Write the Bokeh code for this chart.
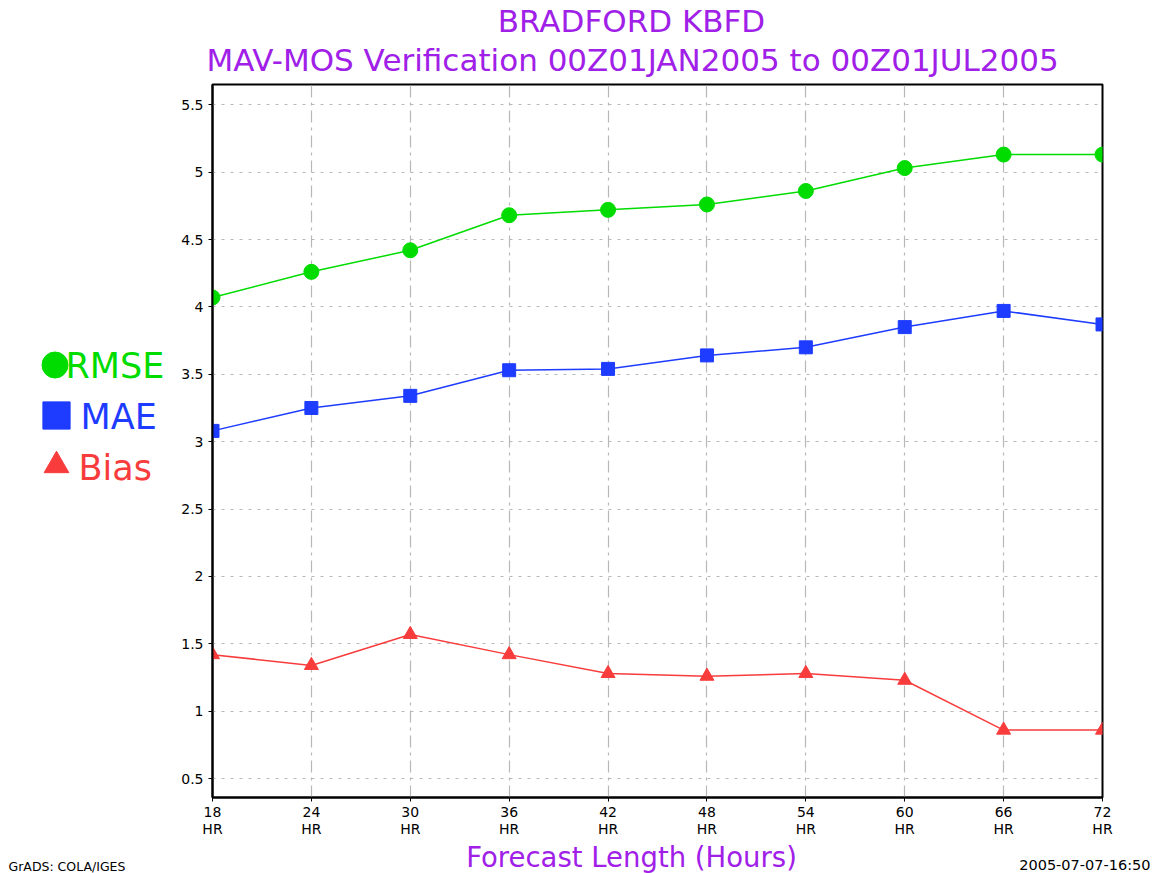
from bokeh.plotting import figure
from bokeh.models import Range1d, FixedTicker, Label, Legend, LegendItem
from bokeh.layouts import column, row
from bokeh.embed import file_html
from bokeh.resources import INLINE

# ---- data ----
hours = [18, 24, 30, 36, 42, 48, 54, 60, 66, 72]
x_tick_labels = ["18\nHR", "24\nHR", "30\nHR", "36\nHR", "42\nHR",
                 "48\nHR", "54\nHR", "60\nHR", "66\nHR", "72\nHR"]
y_ticks = [0.5, 1.0, 1.5, 2.0, 2.5, 3.0, 3.5, 4.0, 4.5, 5.0, 5.5]
y_tick_labels = ["0.5", "1", "1.5", "2", "2.5", "3", "3.5", "4", "4.5", "5", "5.5"]
rmse = [4.07, 4.26, 4.42, 4.68, 4.72, 4.76, 4.86, 5.03, 5.13, 5.13]
mae = [3.08, 3.25, 3.34, 3.53, 3.54, 3.64, 3.70, 3.85, 3.97, 3.87]
bias = [1.42, 1.34, 1.57, 1.42, 1.28, 1.26, 1.28, 1.23, 0.86, 0.86]
series_names = ["RMSE", "MAE", "Bias"]

title1 = "BRADFORD KBFD"
title2 = "MAV-MOS Verification 00Z01JAN2005 to 00Z01JUL2005"
xlabel = "Forecast Length (Hours)"
left_note = "GrADS: COLA/IGES"
right_note = "2005-07-07-16:50"

# ---- layout constants (canvas pixels) ----
W, H = 1156, 873
FL, FR, FT, FB = 212, 1102, 84, 798
TOP_H = 80                 # title strip height
MAIN_BOTTOM = 840          # main figure bottom edge
LEFT_W = 178               # legend strip width
PURPLE = "#a020e8"
GREEN = "#00dc00"
BLUE = "#1e3cff"
RED = "#f83c3c"
FONT = "DejaVu Sans"


def blank_fig(w, h, xr=(0, 1), yr=(0, 1)):
    f = figure(width=w, height=h, output_backend="svg", toolbar_location=None,
               x_range=Range1d(*xr), y_range=Range1d(*yr),
               x_axis_location=None, y_axis_location=None,
               min_border=0, min_border_left=0, min_border_right=0,
               min_border_top=0, min_border_bottom=0)
    f.outline_line_color = None
    f.xgrid.visible = False
    f.ygrid.visible = False
    f.background_fill_color = "white"
    f.border_fill_color = "white"
    return f


def label(f, text, cx, cy, f_left, f_bottom, size, color, align="center"):
    f.add_layout(Label(x=cx - f_left, y=f_bottom - cy, x_units="screen", y_units="screen",
                       text=text, text_font=FONT, text_font_size=size,
                       text_color=color, text_align=align, text_baseline="middle"))


# ---- title strip ----
top = blank_fig(W, TOP_H)
label(top, title1, 631, 20, 0, TOP_H, "31px", PURPLE)
label(top, title2, 632, 59, 0, TOP_H, "31px", PURPLE)

# ---- main plot ----
MW = W - LEFT_W
p = figure(width=MW, height=MAIN_BOTTOM - TOP_H, output_backend="svg", toolbar_location=None,
           x_range=Range1d(18, 72), y_range=Range1d(0.36, 5.65),
           min_border_left=FL - LEFT_W, min_border_right=W - FR,
           min_border_top=FT - TOP_H, min_border_bottom=MAIN_BOTTOM - FB)
p.background_fill_color = "white"
p.border_fill_color = "white"
p.outline_line_color = "black"
p.outline_line_width = 2

p.xaxis.ticker = FixedTicker(ticks=hours)
p.xaxis.major_label_overrides = {h: lab for h, lab in zip(hours, x_tick_labels)}
p.yaxis.ticker = FixedTicker(ticks=y_ticks)
p.yaxis.major_label_overrides = {t: lab for t, lab in zip(y_ticks, y_tick_labels)}
for ax in (p.xaxis[0], p.yaxis[0]):
    ax.axis_line_color = "black"
    ax.axis_line_width = 2
    ax.major_tick_line_color = "black"
    ax.major_tick_in = 0
    ax.major_tick_out = 4
    ax.minor_tick_line_color = None
    ax.major_label_text_font = FONT
    ax.major_label_text_font_size = "14px"
    ax.major_label_text_color = "black"
p.yaxis.major_label_standoff = 5
p.xaxis.major_label_standoff = 2
p.xaxis.major_label_text_line_height = 1.1

p.xgrid.grid_line_color = "#b8b8b8"
p.xgrid.grid_line_dash = "12 5 3 5"
p.xgrid.grid_line_width = 1.2
p.ygrid.grid_line_color = "#b8b8b8"
p.ygrid.grid_line_dash = "3 6"
p.ygrid.grid_line_width = 1.2

p.line(hours, rmse, line_color=GREEN, line_width=1.5)
p.scatter(hours, rmse, marker="circle", size=15, fill_color=GREEN, line_color=GREEN)
p.line(hours, mae, line_color=BLUE, line_width=1.5)
p.scatter(hours, mae, marker="square", size=13, fill_color=BLUE, line_color=BLUE)
p.line(hours, bias, line_color=RED, line_width=1.5)
p.scatter(hours, bias, marker="triangle", size=14, fill_color=RED, line_color=RED)

# ---- legend strip (its frame is aligned with the main frame: FT..FB) ----
leg = blank_fig(LEFT_W, MAIN_BOTTOM - TOP_H)
l_rmse = leg.scatter(hours, rmse, marker="circle", fill_color=GREEN, line_color=GREEN)
l_mae = leg.scatter(hours, mae, marker="square", fill_color=BLUE, line_color=BLUE)
l_bias = leg.scatter(hours, bias, marker="triangle", fill_color=RED, line_color=RED)


def legend_for(renderer, cx, cy, gsize):
    g = int(round(gsize / 0.4))
    lg = Legend(items=[LegendItem(label=" ", renderers=[renderer])],
                location=(int(round(cx - g / 2)), int(round(FB - (cy - g / 2) - g))),
                glyph_width=g, glyph_height=g, padding=0, margin=0,
                spacing=0, border_line_color=None, background_fill_alpha=0,
                label_text_font_size="10px", label_standoff=0)
    leg.add_layout(lg, "center")


legend_for(l_rmse, 55, 365, 26)
legend_for(l_mae, 55.5, 416.5, 27)
legend_for(l_bias, 56, 466, 25)

label(leg, series_names[0], 65, 366, 0, FB, "35px", GREEN, align="left")
label(leg, series_names[1], 80, 417, 0, FB, "35px", BLUE, align="left")
label(leg, series_names[2], 78, 468, 0, FB, "35px", RED, align="left")

# ---- bottom strip ----
bot = blank_fig(W, H - MAIN_BOTTOM)
label(bot, xlabel, 631, 856.5, 0, H, "27.5px", PURPLE)
label(bot, left_note, 8, 866, 0, H, "12.5px", "black", align="left")
label(bot, right_note, 1150, 864, 0, H, "14.5px", "black", align="right")

layout = column(top, row(leg, p), bot)
open("out.html", "w").write(file_html(layout, INLINE))
